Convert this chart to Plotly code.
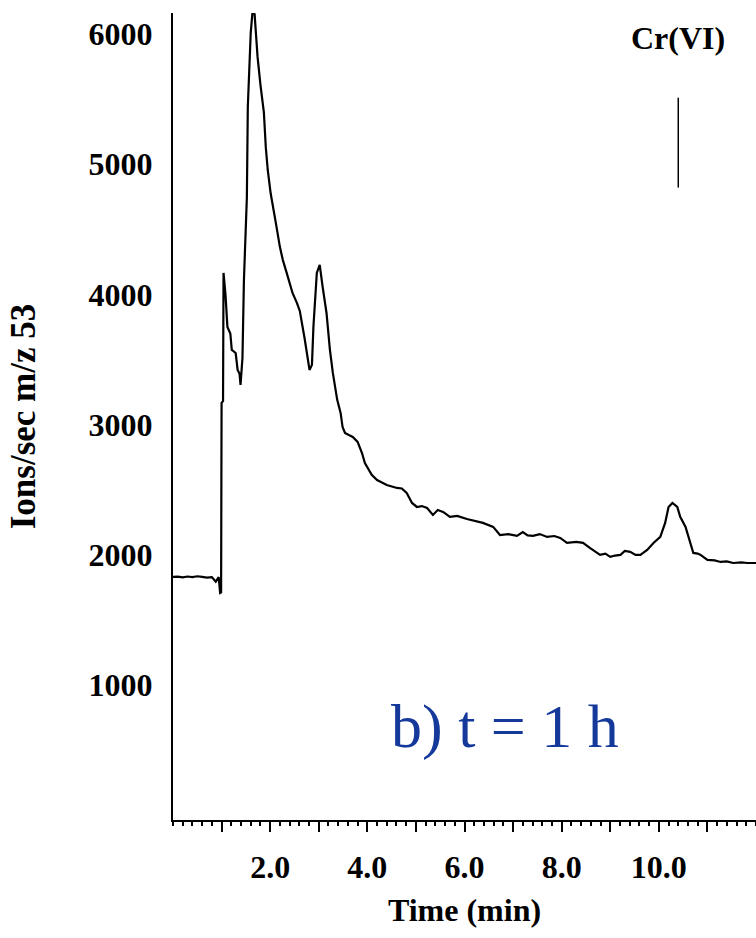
import plotly.graph_objects as go

# Chromatogram trace: retention time (min) vs. ion count rate at m/z 53
time_min = [
    0.00, 0.10, 0.20, 0.30, 0.40, 0.50, 0.60, 0.70, 0.80, 0.88, 0.94, 0.97,
    0.99, 1.00, 1.03, 1.04, 1.08, 1.12, 1.18, 1.21, 1.29, 1.33, 1.37, 1.39,
    1.43, 1.46, 1.52, 1.54, 1.60, 1.64, 1.68, 1.70, 1.74, 1.80, 1.87, 1.91,
    1.95, 2.01, 2.07, 2.13, 2.20, 2.26, 2.34, 2.40, 2.46, 2.55, 2.61, 2.71,
    2.77, 2.81, 2.86, 2.89, 2.96, 3.02, 3.08, 3.16, 3.23, 3.29, 3.38, 3.45,
    3.49, 3.54, 3.62, 3.70, 3.80, 3.89, 3.95, 4.01, 4.09, 4.20, 4.40, 4.61,
    4.71, 4.81, 4.92, 5.02, 5.12, 5.23, 5.35, 5.45, 5.56, 5.70, 5.85, 6.05,
    6.20, 6.38, 6.59, 6.73, 6.90, 7.08, 7.20, 7.30, 7.41, 7.55, 7.70, 7.85,
    7.97, 8.11, 8.30, 8.44, 8.58, 8.79, 8.90, 9.00, 9.10, 9.21, 9.30, 9.41,
    9.52, 9.62, 9.76, 9.89, 10.03, 10.13, 10.20, 10.28, 10.38, 10.44, 10.55,
    10.61, 10.71, 10.80, 10.86, 11.00, 11.15, 11.27, 11.40, 11.53, 11.70,
    11.82, 12.00,
]
ions_per_sec = [
    1831, 1833, 1828, 1834, 1830, 1836, 1832, 1826, 1830, 1795, 1830, 1708,
    1712, 3167, 3180, 4165, 4000, 3750, 3700, 3574, 3550, 3420, 3390, 3305,
    3512, 4111, 4741, 5440, 6008, 6184, 6150, 6008, 5825, 5609, 5400, 5130,
    4955, 4776, 4660, 4520, 4365, 4265, 4165, 4088, 4011, 3935, 3873, 3659,
    3520, 3420, 3459, 3750, 4165, 4226, 4057, 3857, 3574, 3397, 3190, 3090,
    2982, 2936, 2920, 2905, 2867, 2782, 2705, 2667, 2614, 2575, 2537, 2514,
    2510, 2475, 2399, 2368, 2375, 2360, 2307, 2345, 2330, 2292, 2300, 2276,
    2262, 2246, 2215, 2153, 2160, 2146, 2176, 2150, 2146, 2160, 2138, 2145,
    2130, 2092, 2100, 2092, 2054, 2000, 2010, 1985, 1995, 2000, 2030, 2023,
    2000, 2000, 2038, 2092, 2138, 2246, 2368, 2399, 2368, 2292, 2215,
    2138, 2015, 2010, 2000, 1962, 1958, 1946, 1950, 1938, 1942,
    1938, 1938,
]
assert len(time_min) == len(ions_per_sec)

x_tick_values = [1, 2, 3, 4, 5, 6, 7, 8, 9, 10, 11]
x_tick_text = ["", "2.0", "", "4.0", "", "6.0", "", "8.0", "", "10.0", ""]
y_tick_values = [1000, 2000, 3000, 4000, 5000, 6000]
y_tick_text = ["1000", "2000", "3000", "4000", "5000", "6000"]

# Cr(VI) retention-time marker
cr_vi_time = 10.4
cr_vi_marker_span = [4820, 5510]

SERIF = "Liberation Serif, Times New Roman, serif"
bold_font = dict(family=SERIF, size=32, color="black", weight="bold")

fig = go.Figure()
fig.add_trace(go.Scatter(
    x=time_min, y=ions_per_sec, mode="lines",
    line=dict(color="black", width=2.2), cliponaxis=False,
))
fig.add_trace(go.Scatter(
    x=[cr_vi_time, cr_vi_time], y=cr_vi_marker_span, mode="lines",
    line=dict(color="black", width=1.5),
))

fig.update_layout(
    width=756, height=938,
    margin=dict(l=173, r=0, t=13, b=118),
    paper_bgcolor="white", plot_bgcolor="white",
    showlegend=False,
)

fig.update_xaxes(
    range=[0, 12],
    showline=True, linecolor="black", linewidth=2,
    showgrid=False, zeroline=False,
    ticks="outside", ticklen=10, tickwidth=1.5, tickcolor="black",
    tickmode="array", tickvals=x_tick_values, ticktext=x_tick_text,
    tickfont=bold_font, ticklabelstandoff=8,
    minor=dict(tickmode="linear", tick0=0, dtick=0.2, ticks="outside",
               ticklen=4, tickwidth=1.5, tickcolor="black", showgrid=False),
    title=dict(text="Time (min)", font=bold_font, standoff=14),
)
fig.update_yaxes(
    range=[-35, 6160],
    showline=True, linecolor="black", linewidth=2,
    showgrid=False, zeroline=False,
    ticks="",
    tickmode="array", tickvals=y_tick_values, ticktext=y_tick_text,
    tickfont=bold_font, ticklabelstandoff=12,
    title=dict(text="Ions/sec m/z 53",
               font=dict(family=SERIF, size=35, color="black", weight="bold"),
               standoff=42),
)

fig.add_annotation(
    x=cr_vi_time, y=5970, text="Cr(VI)", showarrow=False,
    font=bold_font, xanchor="center", yanchor="middle",
)
fig.add_annotation(
    x=6.84, y=680, text="b) t = 1 h", showarrow=False,
    font=dict(family=SERIF, size=62, color="#14399a"),
    xanchor="center", yanchor="middle",
)

fig.write_html("out.html")
